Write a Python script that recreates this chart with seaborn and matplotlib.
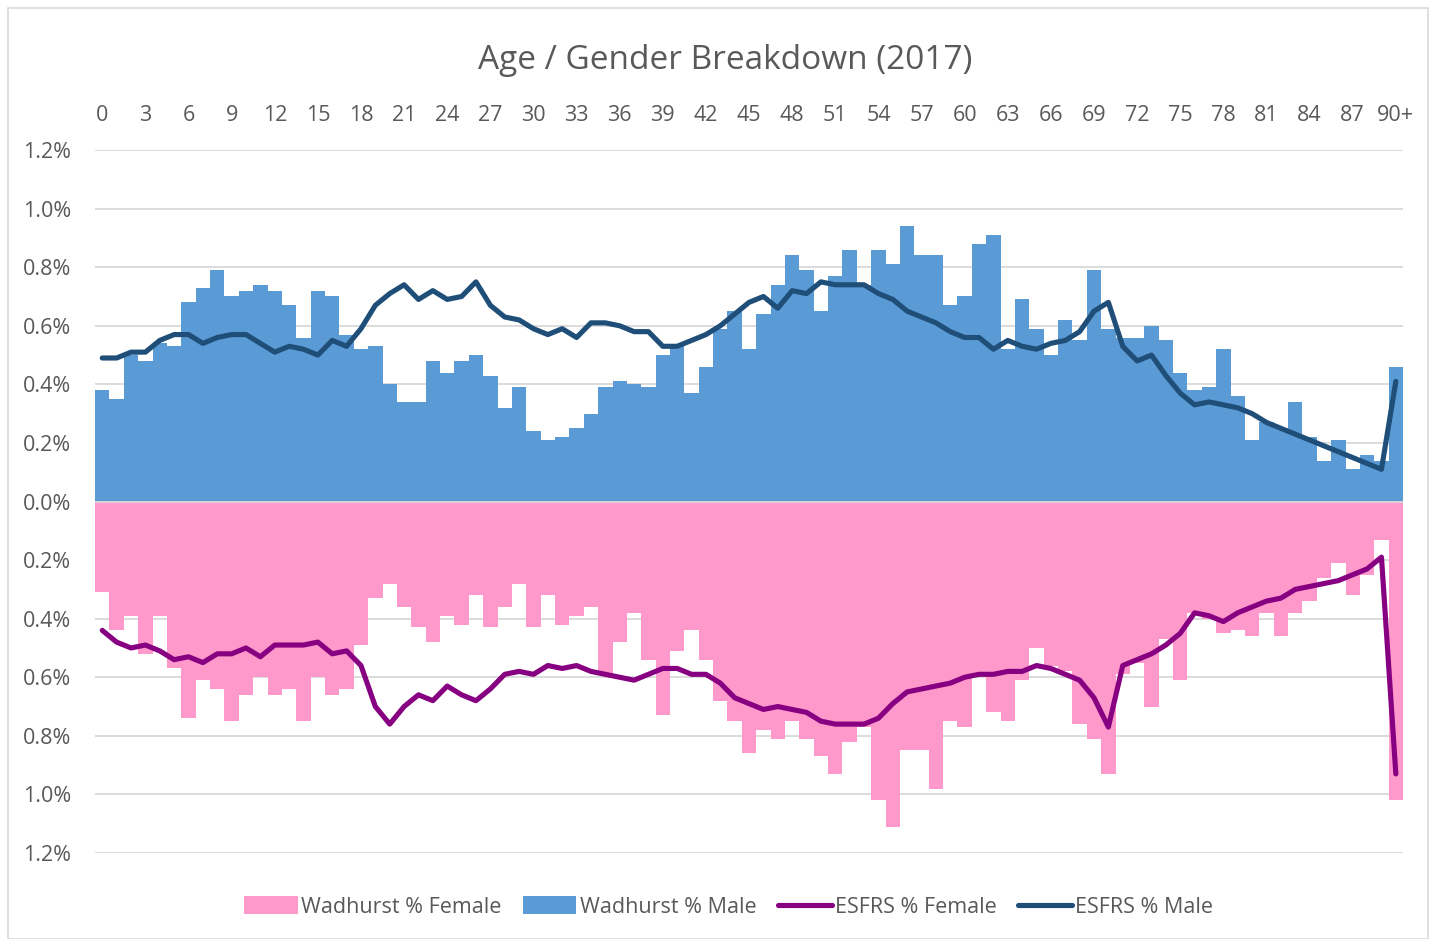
import numpy as np
import pandas as pd
import matplotlib
matplotlib.use("Agg")
import matplotlib.pyplot as plt
import seaborn as sns
from matplotlib.patches import Patch, Rectangle
from matplotlib.lines import Line2D
from matplotlib.ticker import FuncFormatter

#_____1. DATA_____
ages = [str(a) for a in range(90)] + ["90+"]

wadhurst_male = [
    0.38, 0.35, 0.50, 0.48, 0.54, 0.53, 0.68, 0.73, 0.79, 0.70,
    0.72, 0.74, 0.72, 0.67, 0.56, 0.72, 0.70, 0.57, 0.52, 0.53,
    0.40, 0.34, 0.34, 0.48, 0.44, 0.48, 0.50, 0.43, 0.32, 0.39,
    0.24, 0.21, 0.22, 0.25, 0.30, 0.39, 0.41, 0.40, 0.39, 0.50,
    0.53, 0.37, 0.46, 0.59, 0.65, 0.52, 0.64, 0.74, 0.84, 0.79,
    0.65, 0.77, 0.86, 0.74, 0.86, 0.81, 0.94, 0.84, 0.84, 0.67,
    0.70, 0.88, 0.91, 0.52, 0.69, 0.59, 0.50, 0.62, 0.55, 0.79,
    0.59, 0.56, 0.56, 0.60, 0.55, 0.44, 0.38, 0.39, 0.52, 0.36,
    0.21, 0.27, 0.25, 0.34, 0.22, 0.14, 0.21, 0.11, 0.16, 0.14,
    0.46,
]

wadhurst_female = [
    0.31, 0.44, 0.39, 0.52, 0.39, 0.57, 0.74, 0.61, 0.64, 0.75,
    0.66, 0.60, 0.66, 0.64, 0.75, 0.60, 0.66, 0.64, 0.49, 0.33,
    0.28, 0.36, 0.43, 0.48, 0.39, 0.42, 0.32, 0.43, 0.36, 0.28,
    0.43, 0.32, 0.42, 0.39, 0.36, 0.59, 0.48, 0.38, 0.54, 0.73,
    0.51, 0.44, 0.54, 0.68, 0.75, 0.86, 0.78, 0.81, 0.75, 0.81,
    0.87, 0.93, 0.82, 0.77, 1.02, 1.11, 0.85, 0.85, 0.98, 0.75,
    0.77, 0.59, 0.72, 0.75, 0.61, 0.50, 0.56, 0.58, 0.76, 0.81,
    0.93, 0.59, 0.55, 0.70, 0.47, 0.61, 0.38, 0.40, 0.45, 0.44,
    0.46, 0.38, 0.46, 0.38, 0.34, 0.26, 0.21, 0.32, 0.25, 0.13,
    1.02,
]

esfrs_male = [
    0.49, 0.49, 0.51, 0.51, 0.55, 0.57, 0.57, 0.54, 0.56, 0.57,
    0.57, 0.54, 0.51, 0.53, 0.52, 0.50, 0.55, 0.53, 0.59, 0.67,
    0.71, 0.74, 0.69, 0.72, 0.69, 0.70, 0.75, 0.67, 0.63, 0.62,
    0.59, 0.57, 0.59, 0.56, 0.61, 0.61, 0.60, 0.58, 0.58, 0.53,
    0.53, 0.55, 0.57, 0.60, 0.64, 0.68, 0.70, 0.66, 0.72, 0.71,
    0.75, 0.74, 0.74, 0.74, 0.71, 0.69, 0.65, 0.63, 0.61, 0.58,
    0.56, 0.56, 0.52, 0.55, 0.53, 0.52, 0.54, 0.55, 0.58, 0.65,
    0.68, 0.53, 0.48, 0.50, 0.43, 0.37, 0.33, 0.34, 0.33, 0.32,
    0.30, 0.27, 0.25, 0.23, 0.21, 0.19, 0.17, 0.15, 0.13, 0.11,
    0.41,
]

esfrs_female = [
    0.44, 0.48, 0.50, 0.49, 0.51, 0.54, 0.53, 0.55, 0.52, 0.52,
    0.50, 0.53, 0.49, 0.49, 0.49, 0.48, 0.52, 0.51, 0.56, 0.70,
    0.76, 0.70, 0.66, 0.68, 0.63, 0.66, 0.68, 0.64, 0.59, 0.58,
    0.59, 0.56, 0.57, 0.56, 0.58, 0.59, 0.60, 0.61, 0.59, 0.57,
    0.57, 0.59, 0.59, 0.62, 0.67, 0.69, 0.71, 0.70, 0.71, 0.72,
    0.75, 0.76, 0.76, 0.76, 0.74, 0.69, 0.65, 0.64, 0.63, 0.62,
    0.60, 0.59, 0.59, 0.58, 0.58, 0.56, 0.57, 0.59, 0.61, 0.67,
    0.77, 0.56, 0.54, 0.52, 0.49, 0.45, 0.38, 0.39, 0.41, 0.38,
    0.36, 0.34, 0.33, 0.30, 0.29, 0.28, 0.27, 0.25, 0.23, 0.19,
    0.93,
]

tick_labels = [str(a) for a in range(0, 90, 3)] + ["90+"]

# colours
FEMALE_BAR = "#FF99CC"
MALE_BAR = "#5B9BD5"
FEMALE_LINE = "#870081"
MALE_LINE = "#1F4E79"
TEXT_GREY = "#595959"
GRID_GREY = "#D9D9D9"

df = pd.DataFrame({
    "age": ages,
    "pos": np.arange(len(ages)),
    "w_male": wadhurst_male,
    "w_female": [-v for v in wadhurst_female],
    "e_male": esfrs_male,
    "e_female": [-v for v in esfrs_female],
})

#_____2. PLOT_____
sns.set_style("white")
plt.rcParams["font.family"] = ["Open Sans", "DejaVu Sans"]

fig = plt.figure(figsize=(14.34, 9.39), dpi=100)
ax = fig.add_axes([0.0663, 0.0916, 0.9121, 0.7486])

sns.barplot(data=df, x="age", y="w_female", color=FEMALE_BAR, width=1.0,
            saturation=1, ax=ax, order=ages, errorbar=None, zorder=2,
            edgecolor="none", linewidth=0)
sns.barplot(data=df, x="age", y="w_male", color=MALE_BAR, width=1.0,
            saturation=1, ax=ax, order=ages, errorbar=None, zorder=2,
            edgecolor="none", linewidth=0)
sns.lineplot(data=df, x="pos", y="e_female", color=FEMALE_LINE, lw=3.7,
             ax=ax, zorder=4, solid_joinstyle="round", solid_capstyle="round")
sns.lineplot(data=df, x="pos", y="e_male", color=MALE_LINE, lw=3.7,
             ax=ax, zorder=4, solid_joinstyle="round", solid_capstyle="round")

ax.set_xlim(-0.5, len(ages) - 0.5)
ax.set_ylim(-1.2, 1.2)
ax.set_yticks(np.arange(-1.2, 1.21, 0.2))
ax.yaxis.set_major_formatter(FuncFormatter(lambda v, p: f"{abs(v):.1f}%"))
ax.yaxis.grid(True, color=GRID_GREY, lw=1.3, zorder=0)
ax.set_axisbelow(True)
ax.axhline(0, color=GRID_GREY, lw=1.3, zorder=3)

ax.xaxis.tick_top()
ax.set_xticks(list(range(0, 90, 3)) + [90])
ax.set_xticklabels(tick_labels)
ax.tick_params(axis="x", length=0, pad=17, labelsize=15.5, labelcolor=TEXT_GREY)
ax.tick_params(axis="y", length=0, pad=17, labelsize=15.5, labelcolor=TEXT_GREY)
ax.set_xlabel("")
ax.set_ylabel("")
for s in ax.spines.values():
    s.set_visible(False)

fig.text(0.506, 0.936, "Age / Gender Breakdown (2017)", ha="center", va="center",
         fontsize=24, color=TEXT_GREY)

handles = [
    Patch(facecolor=FEMALE_BAR, edgecolor="none"),
    Patch(facecolor=MALE_BAR, edgecolor="none"),
    Line2D([], [], color=FEMALE_LINE, lw=3.7, solid_capstyle="round"),
    Line2D([], [], color=MALE_LINE, lw=3.7, solid_capstyle="round"),
]
labels = ["Wadhurst % Female", "Wadhurst % Male", "ESFRS % Female", "ESFRS % Male"]
fig.legend(handles, labels, loc="center", bbox_to_anchor=(0.508, 0.034), ncol=4,
           frameon=False, fontsize=15.5, labelcolor=TEXT_GREY, handlelength=2.5,
           handleheight=0.9, handletextpad=0.15, columnspacing=1.0)

# chart area border
fig.patches.append(Rectangle((0.0056, 0.0), 0.9902, 0.9915, transform=fig.transFigure,
                             fill=False, edgecolor=GRID_GREY, lw=1.2))

fig.savefig("out.png", dpi=100, facecolor="white")
